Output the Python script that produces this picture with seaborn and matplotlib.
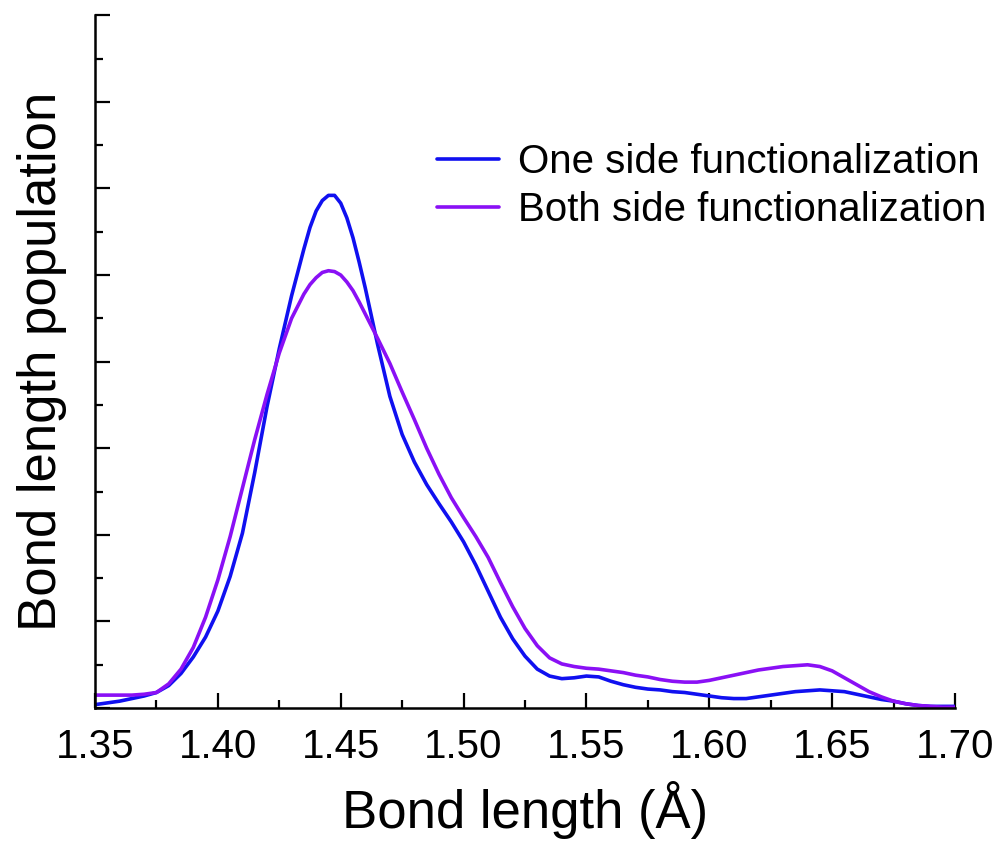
import numpy as np
import pandas as pd
import matplotlib
matplotlib.use("Agg")
import matplotlib.pyplot as plt
import seaborn as sns
from matplotlib.ticker import MultipleLocator

# ---- data ----
bond_length = [1.350, 1.355, 1.360, 1.365, 1.370, 1.375, 1.380, 1.385, 1.390, 1.395,
               1.400, 1.405, 1.410, 1.415, 1.420, 1.425, 1.430, 1.435, 1.4375, 1.440,
               1.4425, 1.445, 1.4475, 1.450, 1.4525, 1.455, 1.4575, 1.460, 1.465, 1.470,
               1.475, 1.480, 1.485, 1.490, 1.495,
               1.500, 1.505, 1.510, 1.515, 1.520, 1.525, 1.530, 1.535, 1.540, 1.545,
               1.550, 1.555, 1.560, 1.565, 1.570, 1.575, 1.580, 1.585, 1.590, 1.595,
               1.600, 1.605, 1.610, 1.615, 1.620, 1.625, 1.630, 1.635, 1.640, 1.645,
               1.650, 1.655, 1.660, 1.665, 1.670, 1.675, 1.680, 1.685, 1.690, 1.695,
               1.700]

one_side = [0.04, 0.06, 0.08, 0.11, 0.14, 0.18, 0.26, 0.40, 0.59, 0.82,
            1.12, 1.52, 2.02, 2.72, 3.48, 4.15, 4.76, 5.30, 5.55, 5.74,
            5.86, 5.92, 5.92, 5.83, 5.66, 5.43, 5.15, 4.85, 4.20, 3.60,
            3.16, 2.84, 2.58, 2.36, 2.15,
            1.92, 1.65, 1.35, 1.05, 0.80, 0.60, 0.45, 0.37, 0.34, 0.35,
            0.37, 0.36, 0.31, 0.27, 0.24, 0.22, 0.21, 0.19, 0.18, 0.16,
            0.14, 0.12, 0.11, 0.11, 0.13, 0.15, 0.17, 0.19, 0.20, 0.21,
            0.20, 0.19, 0.16, 0.13, 0.10, 0.08, 0.05, 0.03, 0.02, 0.02,
            0.02]

both_side = [0.15, 0.15, 0.15, 0.15, 0.16, 0.18, 0.28, 0.45, 0.70, 1.05,
             1.48, 1.98, 2.54, 3.10, 3.62, 4.10, 4.50, 4.78, 4.89, 4.97,
             5.03, 5.05, 5.04, 5.00, 4.92, 4.82, 4.69, 4.55, 4.27, 3.98,
             3.65, 3.33, 3.00, 2.70, 2.43,
             2.20, 1.98, 1.74, 1.45, 1.17, 0.92, 0.72, 0.58, 0.51, 0.48,
             0.46, 0.45, 0.43, 0.41, 0.38, 0.36, 0.33, 0.31, 0.30, 0.30,
             0.32, 0.35, 0.38, 0.41, 0.44, 0.46, 0.48, 0.49, 0.50, 0.48,
             0.43, 0.35, 0.27, 0.19, 0.13, 0.08, 0.05, 0.03, 0.02, 0.01,
             0.01]

series_names = ["One side functionalization", "Both side functionalization"]
series_colors = ["#1010f0", "#8a10f5"]
x_ticks = [1.35, 1.40, 1.45, 1.50, 1.55, 1.60, 1.65, 1.70]

df = pd.concat([
    pd.DataFrame({"x": bond_length, "y": one_side, "series": series_names[0]}),
    pd.DataFrame({"x": bond_length, "y": both_side, "series": series_names[1]}),
])

sns.set_style("white")
plt.rcParams["font.family"] = ["Liberation Sans", "DejaVu Sans"]
plt.rcParams["text.color"] = "black"
plt.rcParams["axes.labelcolor"] = "black"
plt.rcParams["xtick.color"] = "black"
plt.rcParams["ytick.color"] = "black"

fig = plt.figure(figsize=(10, 8.46), dpi=100)
ax = fig.add_axes([0.095, 0.163, 0.86, 0.819])

sns.lineplot(data=df, x="x", y="y", hue="series", hue_order=series_names,
             palette=series_colors, linewidth=2.6, ax=ax, legend=False)
for ln in ax.lines:
    ln.set_solid_joinstyle("round")
    ln.set_solid_capstyle("round")

ax.set_xlim(1.35, 1.70)
ax.set_ylim(0, 8)
ax.set_xticks(x_ticks)
ax.set_xticklabels([f"{v:.2f}" for v in x_ticks])
ax.xaxis.set_minor_locator(MultipleLocator(0.025))
ax.yaxis.set_major_locator(MultipleLocator(1))
ax.yaxis.set_minor_locator(MultipleLocator(0.5))
ax.set_yticklabels([])

for side in ["top", "right"]:
    ax.spines[side].set_visible(False)
for side in ["left", "bottom"]:
    ax.spines[side].set_color("black")
    ax.spines[side].set_linewidth(1.8)

ax.tick_params(which="major", direction="in", length=11, width=1.6, colors="black",
               labelsize=29, pad=14)
ax.tick_params(which="minor", direction="in", length=6, width=1.6, colors="black")
ax.tick_params(axis="x", which="both", bottom=True)
ax.tick_params(axis="y", which="both", left=True)

ax.set_xlabel("Bond length (Å)", fontsize=38, labelpad=11, color="black")
ax.set_ylabel("Bond length population", fontsize=38, labelpad=6, color="black")

handles = [plt.Line2D([], [], color=c, lw=2.6, solid_capstyle="round") for c in series_colors]
leg = ax.legend(handles, series_names, loc="upper left",
                bbox_to_anchor=(0.437, 0.831), bbox_transform=fig.transFigure,
                frameon=False, fontsize=29, handlelength=1.55, handletextpad=0.45,
                labelspacing=0.25, borderpad=0, borderaxespad=0)
for t in leg.get_texts():
    t.set_color("black")

fig.savefig("out.png", dpi=100, facecolor="white")
